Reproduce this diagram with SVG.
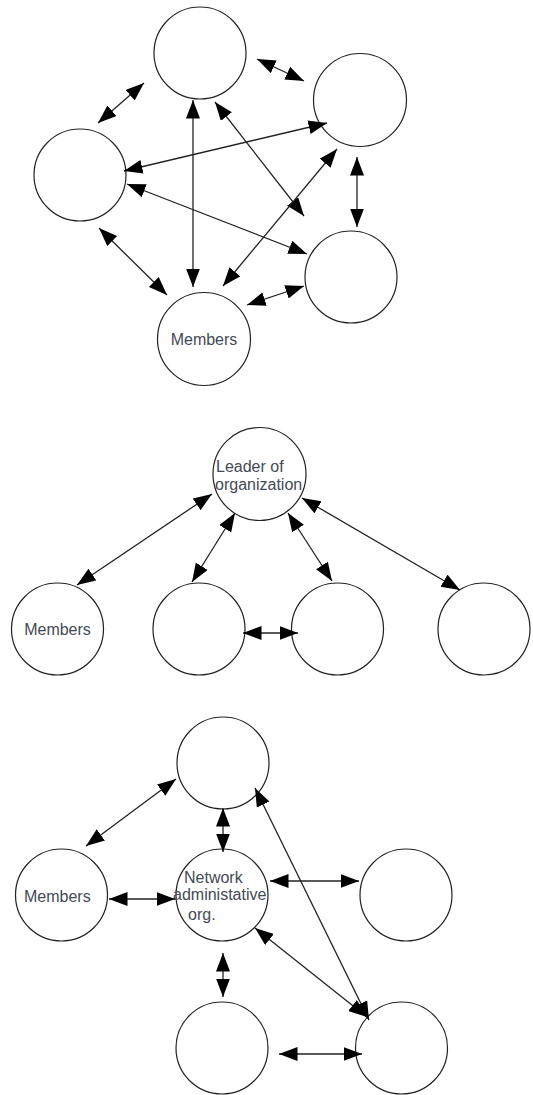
<svg xmlns="http://www.w3.org/2000/svg" width="533" height="1095" viewBox="0 0 533 1095">
<style>
.n{fill:#fff;stroke:#222;stroke-width:1.2}
.t{font-family:"Liberation Sans",Arial,sans-serif;font-size:16px;fill:#444a55}
.c line{stroke:#222;stroke-width:1.3;marker-start:url(#a);marker-end:url(#a)}
</style>
<defs>
<marker id="a" markerUnits="userSpaceOnUse" markerWidth="20" markerHeight="15" refX="18.5" refY="7" orient="auto-start-reverse">
<path d="M0,0 L18.5,7 L0,14 z" fill="#000"/>
</marker>
</defs>
<rect width="533" height="1095" fill="#fff"/>
<!-- Section 1 -->
<g id="s1-top"><circle class="n" cx="200" cy="53" r="46"/></g>
<g id="s1-right-top"><circle class="n" cx="360" cy="100" r="46.5"/></g>
<g id="s1-left"><circle class="n" cx="80" cy="175" r="46"/></g>
<g id="s1-right-bottom"><circle class="n" cx="351" cy="277" r="46"/></g>
<g id="s1-members"><circle class="n" cx="204" cy="339" r="46.5"/><text class="t" x="204" y="345" text-anchor="middle">Members</text></g>
<!-- Section 2 -->
<g id="s2-leader"><circle class="n" cx="259.5" cy="474" r="46.5"/><text class="t" x="216" y="472">Leader of</text><text class="t" x="215" y="490">organization</text></g>
<g id="s2-members"><circle class="n" cx="57.5" cy="629" r="46"/><text class="t" x="57.5" y="635" text-anchor="middle">Members</text></g>
<g id="s2-n2"><circle class="n" cx="199" cy="629" r="46"/></g>
<g id="s2-n3"><circle class="n" cx="337.5" cy="629" r="46"/></g>
<g id="s2-n4"><circle class="n" cx="484" cy="629" r="46"/></g>
<!-- Section 3 -->
<g id="s3-top"><circle class="n" cx="223" cy="763" r="46"/></g>
<g id="s3-members"><circle class="n" cx="61.5" cy="895" r="46"/><text class="t" x="24" y="902">Members</text></g>
<g id="s3-nao"><circle class="n" cx="222" cy="895" r="46"/><text class="t" x="184" y="883">Network</text><text class="t" x="173" y="900">administative</text><text class="t" x="188" y="920">org.</text></g>
<g id="s3-right"><circle class="n" cx="406" cy="895" r="46"/></g>
<g id="s3-bottom-left"><circle class="n" cx="222" cy="1048" r="46"/></g>
<g id="s3-bottom-right"><circle class="n" cx="401.5" cy="1048" r="46"/></g>
<g id="connectors" class="c">
<line x1="257" y1="59" x2="304" y2="81"/>
<line x1="98" y1="123" x2="144" y2="83"/>
<line x1="193" y1="100" x2="193" y2="287"/>
<line x1="215" y1="102" x2="304" y2="216"/>
<line x1="327" y1="123" x2="124" y2="171"/>
<line x1="127" y1="184" x2="307" y2="254"/>
<line x1="337" y1="149" x2="223" y2="286"/>
<line x1="357" y1="157" x2="357" y2="227"/>
<line x1="99" y1="228" x2="167" y2="295"/>
<line x1="304" y1="286" x2="247" y2="305"/>
<line x1="212" y1="494" x2="77" y2="585"/>
<line x1="235" y1="513" x2="192" y2="582"/>
<line x1="288" y1="513" x2="332" y2="581"/>
<line x1="302" y1="498" x2="460" y2="590"/>
<line x1="243" y1="633" x2="298" y2="633"/>
<line x1="176" y1="779" x2="86" y2="846"/>
<line x1="223" y1="808" x2="223" y2="852"/>
<line x1="255" y1="788" x2="369" y2="1020"/>
<line x1="109" y1="899" x2="175" y2="899"/>
<line x1="270" y1="881" x2="359" y2="881"/>
<line x1="255" y1="928" x2="367" y2="1017"/>
<line x1="223" y1="953" x2="223" y2="997"/>
<line x1="279" y1="1054" x2="362" y2="1054"/>
</g>
</svg>
